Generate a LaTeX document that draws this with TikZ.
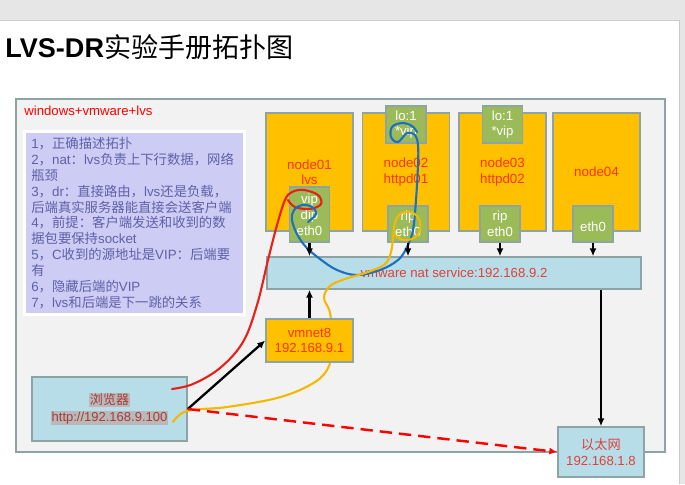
\documentclass[tikz,border=0pt]{standalone}
\usepackage{fontspec}
\setmainfont{Liberation Sans}
\newfontfamily\cjk{Noto Sans CJK SC}
\usetikzlibrary{arrows.meta,positioning,calc}
\newcommand{\zh}[1]{{\cjk #1}}
\newcommand{\selbox}[1]{{\setlength{\fboxsep}{0.6pt}\colorbox{gray!55}{#1}}}

\definecolor{slidegray}{HTML}{E6E6E6}
\definecolor{panelfill}{HTML}{F2F2F2}
\definecolor{edgegray}{HTML}{8EA3A3}
\definecolor{nodeorange}{HTML}{FFC000}
\definecolor{ifgreen}{HTML}{9BBB59}
\definecolor{netblue}{HTML}{B7DEE8}
\definecolor{notefill}{HTML}{CCCCF4}
\definecolor{notetext}{HTML}{6060A8}
\definecolor{labelred}{HTML}{FF3300}
\definecolor{netred}{HTML}{E0403A}
\definecolor{browred}{HTML}{A83A3A}
\definecolor{inkred}{HTML}{E8201A}
\definecolor{inkblue}{HTML}{1F6FC0}
\definecolor{inkyellow}{HTML}{F5B800}

\begin{document}
\begin{tikzpicture}[x=0.02cm, y=-0.02cm,
  box/.style={draw=edgegray, line width=0.9pt, inner sep=0pt, align=center},
  host/.style={box, fill=nodeorange, text=labelred, font=\fontsize{7.6}{8.6}\selectfont,
    minimum width=1.74cm, minimum height=2.36cm},
  nic/.style={box, fill=ifgreen, text=white, font=\fontsize{7.5}{9}\selectfont,
    minimum width=0.8cm},
  net/.style={box, fill=netblue, text=netred, font=\fontsize{7.5}{9}\selectfont},
  link/.style={-{Latex[length=4.5pt,width=4pt]}, line width=1.3pt},
  ink/.style={line width=1.2pt, line cap=round, line join=round},
]
\useasboundingbox (0,0) rectangle (685,484);

% slide
\fill[slidegray] (0,0) rectangle (685,484);
\fill[white] (0,20) rectangle (679,484);
\draw[gray!40] (0,20) -- (679,20) -- (679,484);

% title
\node[anchor=west, inner sep=0pt, font=\fontsize{15.4}{17}\selectfont] (title) at (5,47)
  {\textbf{LVS-DR}\zh{实验手册拓扑图}};

% frame
\draw[edgegray, fill=panelfill, line width=1.2pt] (16,99) rectangle (665,452);
\node[anchor=west, inner sep=0pt, text=red, font=\fontsize{7.5}{9}\selectfont] (env) at (24,111)
  {windows+vmware+lvs};

% notes
\node[anchor=north west, draw=white, line width=1.5pt, fill=notefill, text=notetext,
  minimum width=4.4cm, minimum height=3.64cm, text width=4.12cm, inner xsep=0.14cm,
  align=left, font=\fontsize{7.6}{9.05}\selectfont] (notes) at (23,130)
  {1\zh{，正确描述拓扑}\\
   2\zh{，}nat\zh{：}lvs\zh{负责上下行数据，网络}\\
   \zh{瓶颈}\\
   3\zh{，}dr\zh{：直接路由，}lvs\zh{还是负载，}\\
   \zh{后端真实服务器能直接会送客户端}\\
   4\zh{，前提：客户端发送和收到的数}\\
   \zh{据包要保持}socket\\
   5\zh{，}C\zh{收到的源地址是}VIP\zh{：后端要}\\
   \zh{有}\\
   6\zh{，隐藏后端的}VIP\\
   7\zh{，}lvs\zh{和后端是下一跳的关系}};

% hosts
\node[host] (n1) at (309.5,172) {node01\\lvs};
\node[host] (n2) at (406,172) {node02\\httpd01};
\node[host] (n3) at (502.5,172) {node03\\httpd02};
\node[host] (n4) at (596.5,172) {node04};

% interfaces
\node[nic, minimum height=1.1cm] (n1if) at (309.5,214.5) {vip\\dip\\eth0};
\node[nic, minimum height=0.74cm] (n2lo) at (406,124.5) {lo:1\\*vip};
\node[nic, minimum height=0.72cm] (n2if) at (408,224) {rip\\eth0};
\node[nic, minimum height=0.74cm] (n3lo) at (502.5,124.5) {lo:1\\*vip};
\node[nic, minimum height=0.72cm] (n3if) at (500,224) {rip\\eth0};
\node[nic, minimum height=0.72cm] (n4if) at (593,224) {\mbox{}\\eth0};

% networks
\node[net, minimum width=7.48cm, minimum height=0.64cm] (nat) at (454,273)
  {vmware nat service:192.168.9.2};
\node[net, minimum width=3.1cm, minimum height=1.28cm, text=browred,
  font=\fontsize{7.4}{9.6}\selectfont] (brow) at (109.5,409)
  {\selbox{\zh{浏览器}}\\\selbox{http://192.168.9.100}};
\node[net, minimum width=1.72cm, minimum height=1cm] (lan) at (601,452)
  {\zh{以太网}\\192.168.1.8};

% hand-drawn marks
\draw[ink, inkred] plot[smooth, tension=0.6] coordinates {(172,389) (193,384) (220,368)
  (243,342) (257,305) (268,260) (277,225) (285,200) (292,192) (304,190) (318,195)
  (321,204) (310,209) (295,207) (288,200)};
\draw[ink, inkblue] plot[smooth, tension=0.6] coordinates {(308,222) (316,214) (312,207)
  (302,205) (294,210) (292,220) (297,234) (306,247) (320,259) (337,270) (357,275)
  (380,270) (398,260) (407,247) (413,230) (416,200) (418,165) (418,145) (415,135)
  (407,133) (398,142) (391,137) (392,127) (402,123) (412,126) (417,132)};
\draw[ink, inkyellow] plot[smooth, tension=0.6] coordinates {(173,422) (187,411)
  (227,407) (277,398) (310,385) (327,370) (333,345) (330,313) (324,298) (330,286)
  (345,279) (368,272) (385,264) (391,252) (393,238) (395,223) (400,214) (411,212)
  (419,219) (420,230) (414,238) (403,240) (395,235)};

\node[net, fill=nodeorange, text=labelred, minimum width=1.74cm, minimum height=0.86cm]
  (vm) at (309.5,340.5) {vmnet8\\192.168.9.1};

% links
\draw[link] (n1if.south) -- (n1if.south |- nat.north);
\draw[link] (n2if.south) -- (n2if.south |- nat.north);
\draw[link] (n3if.south) -- (n3if.south |- nat.north);
\draw[link] (n4if.south) -- (n4if.south |- nat.north);
\draw[link] (vm.north) -- (vm.north |- nat.south);
\draw[link] (lan.north |- nat.south) -- (lan.north);
\draw[link] (brow.east) -- (vm.west);
\draw[link, red, dashed, dash pattern=on 7pt off 4pt, line width=1.4pt] (brow.east) -- (lan.west);
\end{tikzpicture}
\end{document}
